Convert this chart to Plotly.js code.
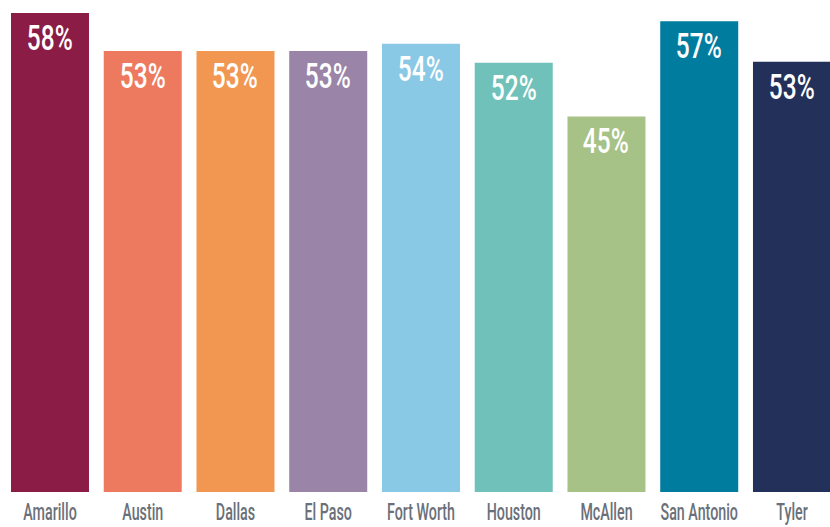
<!DOCTYPE html>
<html>
<head>
<meta charset="utf-8">
<script src="https://cdn.plot.ly/plotly-3.0.1.min.js"></script>
<style>html,body{margin:0;padding:0;background:#fff;}#chart{width:830px;height:527px;}</style>
</head>
<body>
<div id="chart"></div>
<script>
const cities = ["Amarillo","Austin","Dallas","El Paso","Fort Worth","Houston","McAllen","San Antonio","Tyler"];
const values = [57.9, 53.3, 53.3, 53.3, 54.2, 51.9, 45.4, 56.9, 52.0];
const valueLabels = ["58%","53%","53%","53%","54%","52%","45%","57%","53%"];
const colors = ["#8B1C45","#ED7A5F","#F19752","#9A85A8","#89C9E5","#6FC1B9","#A7C287","#007C9F","#22305A"];

const font = "Roboto, 'Liberation Sans', sans-serif";

const trace = {
  type: "bar",
  x: cities,
  y: values,
  marker: {color: colors},
  hoverinfo: "none"
};

const annotations = cities.map((c, i) => ({
  x: c, y: values[i], xref: "x", yref: "y",
  text: valueLabels[i], showarrow: false,
  yanchor: "top", yshift: -3,
  font: {family: font, size: 35, color: "#ffffff", weight: 500}
}));

const layout = {
  width: 830, height: 527,
  margin: {l: 0, r: 0, t: 0, b: 34.5},
  paper_bgcolor: "#ffffff", plot_bgcolor: "#ffffff",
  bargap: 0.159,
  showlegend: false,
  xaxis: {
    range: [-0.539, 8.41], showgrid: false, zeroline: false, showline: false,
    ticks: "", tickangle: 0, ticklabelstandoff: 4, automargin: false,
    tickfont: {family: font, size: 23, color: "#6A7079", weight: 500}
  },
  yaxis: {range: [0, 59.48], visible: false, showgrid: false, zeroline: false},
  annotations: annotations
};

function condense(sel, s) {
  document.querySelectorAll(sel).forEach(el => {
    const bb = el.getBBox();
    const cx = bb.x + bb.width / 2;
    const t = el.getAttribute("transform") || "";
    el.setAttribute("transform", t + " translate(" + cx + ",0) scale(" + s + ",1) translate(" + (-cx) + ",0)");
  });
}

Plotly.newPlot("chart", [trace], layout, {staticPlot: true, displayModeBar: false}).then(() => {
  condense("#chart .xtick text", 0.62);
  condense("#chart .annotation-text", 0.7);
});
</script>
</body>
</html>
